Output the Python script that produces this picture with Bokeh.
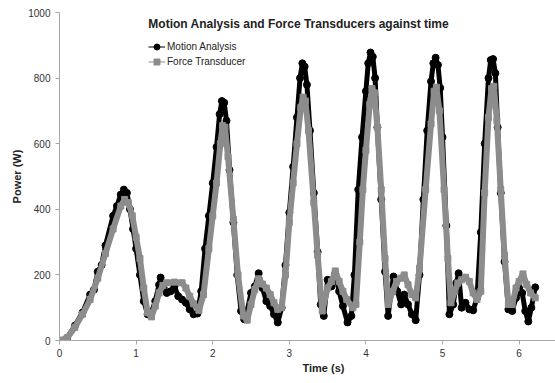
from bokeh.plotting import figure
from bokeh.models import Range1d, Legend, LegendItem, Label, Title
from bokeh.embed import file_html
from bokeh.resources import INLINE

# Motion Analysis (black)
motion_t = [0.0,0.1,0.2,0.3,0.4,0.45,0.5,0.55,0.6,0.7,0.75,0.8,0.84,0.88,0.92,0.96,1.0,
            1.05,1.1,1.15,1.2,1.25,1.3,1.32,1.36,1.4,1.45,1.5,1.55,1.6,1.65,1.7,1.75,1.8,1.85,1.9,1.95,2.0,2.05,
            2.09,2.12,2.15,2.18,2.22,2.27,2.32,2.37,2.41,2.45,2.5,2.55,2.6,2.65,2.7,2.75,2.8,2.85,2.9,2.95,3.0,3.05,3.1,
            3.14,3.17,3.2,3.23,3.27,3.32,3.37,3.41,3.45,3.5,3.55,3.6,3.65,3.7,3.76,3.81,3.85,3.9,3.95,4.0,
            4.03,4.06,4.09,4.12,4.15,4.2,4.25,4.29,4.33,4.36,4.41,4.46,4.5,4.55,4.6,4.65,4.7,4.75,4.8,4.85,
            4.88,4.91,4.94,4.97,5.0,5.05,5.09,5.14,5.18,5.21,5.25,5.3,5.35,5.4,5.45,5.5,5.55,5.6,
            5.63,5.66,5.69,5.72,5.76,5.81,5.86,5.91,5.96,6.0,6.04,6.08,6.12,6.16,6.21]
motion_p = [0,8,45,85,140,155,210,230,290,380,410,445,460,450,400,340,280,
            200,120,80,85,120,170,192,160,145,150,165,135,125,115,95,80,82,150,280,380,480,590,
            690,730,725,670,520,360,200,90,65,90,145,165,205,160,120,105,80,55,100,230,390,530,680,
            800,845,835,780,640,450,270,110,75,185,165,205,150,105,55,75,200,460,620,760,
            845,878,865,800,650,430,210,75,150,195,150,110,140,110,80,62,200,430,640,790,
            845,862,840,770,620,350,80,110,175,205,100,115,95,92,130,330,600,800,
            855,858,815,650,450,240,95,90,130,160,145,90,58,100,162]

# Force Transducer (grey)
force_t = [0.0,0.1,0.2,0.3,0.4,0.5,0.6,0.7,0.8,0.85,0.9,0.95,1.0,
           1.05,1.1,1.15,1.2,1.25,1.3,1.35,1.4,1.5,1.6,1.65,1.7,1.75,1.82,1.88,1.95,2.0,2.05,
           2.1,2.13,2.16,2.2,2.27,2.33,2.4,2.45,2.5,2.55,2.6,2.65,2.7,2.75,2.8,2.85,2.9,2.95,3.0,3.05,3.1,
           3.15,3.18,3.21,3.25,3.32,3.37,3.43,3.5,3.55,3.6,3.65,3.7,3.75,3.83,3.87,3.92,3.96,4.0,4.05,
           4.08,4.11,4.15,4.2,4.25,4.29,4.35,4.4,4.45,4.5,4.55,4.6,4.65,4.7,4.78,4.85,
           4.89,4.92,4.96,5.02,5.07,5.11,5.16,5.2,5.25,5.3,5.35,5.4,5.45,5.5,5.55,5.6,
           5.64,5.67,5.71,5.76,5.81,5.86,5.91,5.96,6.0,6.05,6.1,6.15,6.21]
force_p = [0,8,40,80,125,190,265,340,410,430,420,380,315,
           250,160,85,72,105,145,168,176,178,176,160,135,112,92,140,280,380,480,
           600,655,650,560,370,200,75,62,110,155,188,172,160,140,115,95,100,200,360,480,600,
           710,742,730,640,420,260,90,160,180,212,180,150,125,100,110,300,460,580,720,
           768,755,650,460,250,110,150,180,190,200,170,140,130,220,460,660,
           760,772,700,460,250,115,150,175,185,193,180,145,125,150,450,680,
           768,775,670,460,260,110,110,160,180,203,170,145,130]

x_ticks = [0, 1, 2, 3, 4, 5, 6]
y_ticks = [0, 200, 400, 600, 800, 1000]

FONT = "Liberation Sans"
GREY = "#8c8c8c"

p = figure(width=555, height=383, output_backend="svg", toolbar_location=None,
           x_range=Range1d(0, 6.475), y_range=Range1d(0, 1000),
           min_border_left=59, min_border_right=0, min_border_top=12, min_border_bottom=43)
p.outline_line_color = None
p.xgrid.visible = False
p.ygrid.visible = False
p.background_fill_color = "white"

# data
ml = p.line(motion_t, motion_p, line_color="black", line_width=5, line_join="round")
ms = p.scatter(motion_t, motion_p, marker="circle", size=7, fill_color="black", line_color="black")
fl = p.line(force_t, force_p, line_color=GREY, line_width=6, line_join="round")
fs = p.scatter(force_t, force_p, marker="square", size=6, fill_color=GREY, line_color=GREY)

# legend proxies (thin line + small marker), placed outside the visible range
lg_ml = p.line([-5, -4], [-50, -50], line_color="black", line_width=1)
lg_ms = p.scatter([-5], [-50], marker="circle", size=5, fill_color="black", line_color="black")
lg_fl = p.line([-5, -4], [-50, -50], line_color=GREY, line_width=1)
lg_fs = p.scatter([-5], [-50], marker="square", size=5, fill_color=GREY, line_color=GREY)

legend = Legend(items=[LegendItem(label="Motion Analysis", renderers=[lg_ml, lg_ms]),
                       LegendItem(label="Force Transducer", renderers=[lg_fl, lg_fs])],
                location=(89, 271), padding=0, margin=0, spacing=0,
                glyph_width=17, glyph_height=15, label_height=15, label_standoff=2,
                label_text_font=FONT, label_text_font_size="10px", label_text_color="#222222",
                border_line_color=None, background_fill_alpha=0)
p.add_layout(legend)

# axes
for ax in (p.xaxis[0], p.yaxis[0]):
    ax.axis_line_color = "#a8a8a8"
    ax.major_tick_line_color = "#a8a8a8"
    ax.minor_tick_line_color = None
    ax.major_tick_out = 4
    ax.major_tick_in = 0
    ax.major_label_text_font = FONT
    ax.major_label_text_font_size = "10px"
    ax.major_label_text_color = "#333333"

p.xaxis.ticker = x_ticks
p.yaxis.ticker = y_ticks
p.xaxis.major_label_standoff = 4
p.yaxis.major_label_standoff = 5
p.yaxis.axis_label = "Power (W)"
p.yaxis.axis_label_text_font = FONT
p.yaxis.axis_label_text_font_size = "11px"
p.yaxis.axis_label_text_font_style = "bold"
p.yaxis.axis_label_text_color = "#222222"
p.yaxis.axis_label_standoff = 2

p.add_layout(Label(x=1.16, y=966, text="Motion Analysis and Force Transducers against time",
                   text_font=FONT, text_font_size="12px", text_font_style="bold",
                   text_color="#222222", text_baseline="middle", text_align="left"))

xlab = Title(text="Time (s)", align="left", offset=243, standoff=0,
             text_font=FONT, text_font_size="11px", text_font_style="bold", text_color="#222222")
p.add_layout(xlab, "below")

open("out.html", "w").write(file_html(p, INLINE))
